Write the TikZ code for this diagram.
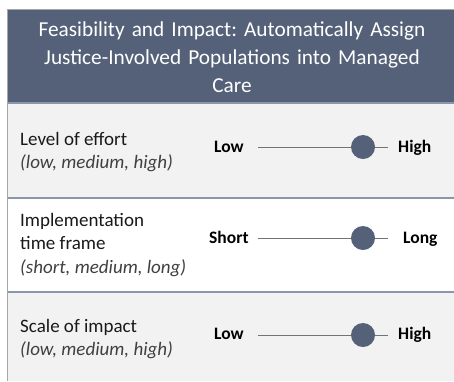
\documentclass[tikz,border=0pt]{standalone}
\usepackage{fontspec}
\setmainfont{Carlito}
\usepackage{xcolor}
\usetikzlibrary{positioning}
\frenchspacing

\definecolor{slate}{HTML}{546178}
\definecolor{rowgray}{HTML}{F2F2F2}
\definecolor{rulecol}{HTML}{8A96AA}
\definecolor{hintgray}{HTML}{404040}

\tikzset{
  rowtext/.style={anchor=west, align=left, inner sep=0pt, font=\fontsize{19}{23.5}\selectfont, text=black!90},
  endword/.style={anchor=west, inner sep=0pt, text height=12pt, text depth=4pt, font=\fontsize{17.5}{20}\selectfont\bfseries},
  track/.style={draw=black!55, line width=0.9pt},
  knob/.style={circle, fill=slate, minimum size=24pt, inner sep=0pt},
}

\begin{document}
\begin{tikzpicture}[x=1pt, y=-1pt]
  \useasboundingbox (0,0) rectangle (454,381);
  % bands
  \fill[slate] (7,9) rectangle (454,103);
  \fill[rowgray] (7,103) rectangle (454,198);
  \fill[white] (7,198) rectangle (454,292);
  \fill[rowgray] (7,292) rectangle (454,381);
  \draw[rulecol, line width=1.6pt] (7,103) -- (454,103) (7,198) -- (454,198) (7,292) -- (454,292);
  \draw[black!35, line width=1pt] (7,381) -- (7,9) -- (454,9);

  \node[text=white, align=center, text width=440pt, font=\fontsize{21.3}{28}\selectfont] (T) at (232,57) {Feasibility and Impact: Automatically Assign\\Justice-Involved Populations into Managed\\Care};

  % level of effort
  \node[rowtext] (E) at (20,152) {Level of effort\\{\itshape\color{hintgray}(low, medium, high)}};
  \node[endword] (EL) at (214,148) {Low};
  \node[endword] (EH) at (398,148) {High};
  \coordinate (E0) at (258,147);
  \coordinate (E1) at (388,147);
  \draw[track] (E0) -- (E1);
  \node[knob] (EK) at (363,147) {};

  % time frame
  \node[rowtext] (F) at (20,245) {Implementation\\time frame\\{\itshape\color{hintgray}(short, medium, long)}};
  \node[endword] (FS) at (209,239) {Short};
  \node[endword] (FL) at (403,239) {Long};
  \coordinate (F0) at (258,238);
  \coordinate (F1) at (388,238);
  \draw[track] (F0) -- (F1);
  \node[knob] (FK) at (363,238) {};

  % scale of impact
  \node[rowtext] (S) at (20,339) {Scale of impact\\{\itshape\color{hintgray}(low, medium, high)}};
  \node[endword] (SL) at (214,335) {Low};
  \node[endword] (SH) at (398,335) {High};
  \coordinate (S0) at (258,335);
  \coordinate (S1) at (388,335);
  \draw[track] (S0) -- (S1);
  \node[knob] (SK) at (363,335) {};
\end{tikzpicture}
\end{document}
